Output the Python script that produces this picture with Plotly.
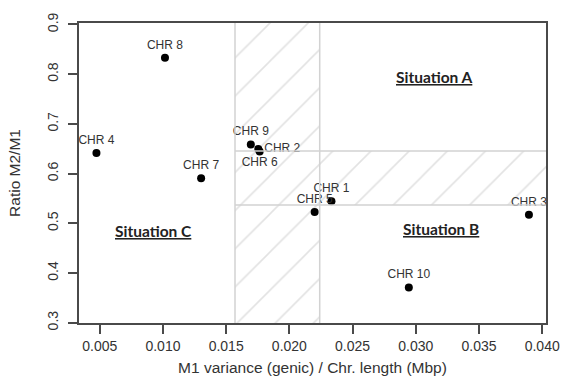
import plotly.graph_objects as go

# Data
labels = ["CHR 1", "CHR 2", "CHR 3", "CHR 4", "CHR 5", "CHR 6", "CHR 7", "CHR 8", "CHR 9", "CHR 10"]
x_vals = [0.02333, 0.01754, 0.03895, 0.00474, 0.02200, 0.01765, 0.01302, 0.01016, 0.01695, 0.02945]
y_vals = [0.5446, 0.6495, 0.5174, 0.6416, 0.5228, 0.6446, 0.5907, 0.8330, 0.6588, 0.3710]
label_pos = ["top center", "middle right", "top center", "top center", "top center",
             "bottom center", "top center", "top center", "top center", "top center"]

# Thresholds of the hatched zones
x_lo, x_hi = 0.0157, 0.0224
y_lo, y_hi = 0.537, 0.6455

x_range = [0.00336, 0.0403]
y_range = [0.2995, 0.903]

situations = ["Situation A", "Situation B", "Situation C"]
sit_x = [0.0315, 0.0320, 0.00925]
sit_y = [0.794, 0.488, 0.485]

font = "Liberation Sans, Arial, sans-serif"
hatch_col = "#c6c6c6"
pattern = dict(shape="/", size=27, solidity=0.06, fgcolor=hatch_col, bgcolor="rgba(0,0,0,0)")

fig = go.Figure()

# vertical hatched band
fig.add_trace(go.Scatter(
    x=[x_lo, x_hi, x_hi, x_lo, x_lo],
    y=[y_range[0], y_range[0], y_range[1], y_range[1], y_range[0]],
    mode="lines", line=dict(width=0), fill="toself", fillcolor="rgba(0,0,0,0)",
    fillpattern=pattern, hoverinfo="skip", showlegend=False))
# horizontal hatched band
fig.add_trace(go.Scatter(
    x=[x_hi, x_range[1], x_range[1], x_hi, x_hi],
    y=[y_lo, y_lo, y_hi, y_hi, y_lo],
    mode="lines", line=dict(width=0), fill="toself", fillcolor="rgba(0,0,0,0)",
    fillpattern=pattern, hoverinfo="skip", showlegend=False))

line_style = dict(color="#d2d2d2", width=1.5)
for xv in (x_lo, x_hi):
    fig.add_shape(type="line", xref="x", yref="paper", x0=xv, x1=xv, y0=0, y1=1, line=line_style, layer="above")
for yv in (y_lo, y_hi):
    fig.add_shape(type="line", xref="x", yref="y", x0=x_lo, x1=x_range[1], y0=yv, y1=yv, line=line_style, layer="above")

fig.add_trace(go.Scatter(
    x=x_vals, y=y_vals, mode="markers+text", text=labels, textposition=label_pos,
    textfont=dict(family=font, size=12, color="#333333"),
    marker=dict(color="black", size=8), cliponaxis=True, showlegend=False))

for s, sx, sy in zip(situations, sit_x, sit_y):
    fig.add_annotation(x=sx, y=sy, text="<b><u>" + s + "</u></b>", showarrow=False,
                       font=dict(family="Lato, Open Sans, sans-serif", size=15.5, color="#222222"))

axis_common = dict(showline=True, linecolor="#4a4a4a", linewidth=1.5, mirror=True,
                   ticks="outside", ticklen=9, tickcolor="#4a4a4a", tickwidth=1.5,
                   showgrid=False, zeroline=False,
                   tickfont=dict(family=font, size=14, color="#333333"))

fig.update_layout(
    width=572, height=386,
    margin=dict(l=79, r=19, t=17, b=63),
    paper_bgcolor="white", plot_bgcolor="white",
    xaxis=dict(range=x_range, tickvals=[0.005, 0.010, 0.015, 0.020, 0.025, 0.030, 0.035, 0.040],
               ticktext=["0.005", "0.010", "0.015", "0.020", "0.025", "0.030", "0.035", "0.040"],
               title=dict(text="M1 variance (genic) / Chr. length (Mbp)",
                          font=dict(family=font, size=15.5, color="#333333"), standoff=10),
               **axis_common),
    yaxis=dict(range=y_range, tickvals=[0.3, 0.4, 0.5, 0.6, 0.7, 0.8, 0.9],
               ticktext=["0.3", "0.4", "0.5", "0.6", "0.7", "0.8", "0.9"], tickangle=-90,
               ticklabelstandoff=5,
               title=dict(text="Ratio M2/M1", font=dict(family=font, size=15.5, color="#333333"), standoff=20),
               **axis_common),
)

fig.write_html("out.html")
